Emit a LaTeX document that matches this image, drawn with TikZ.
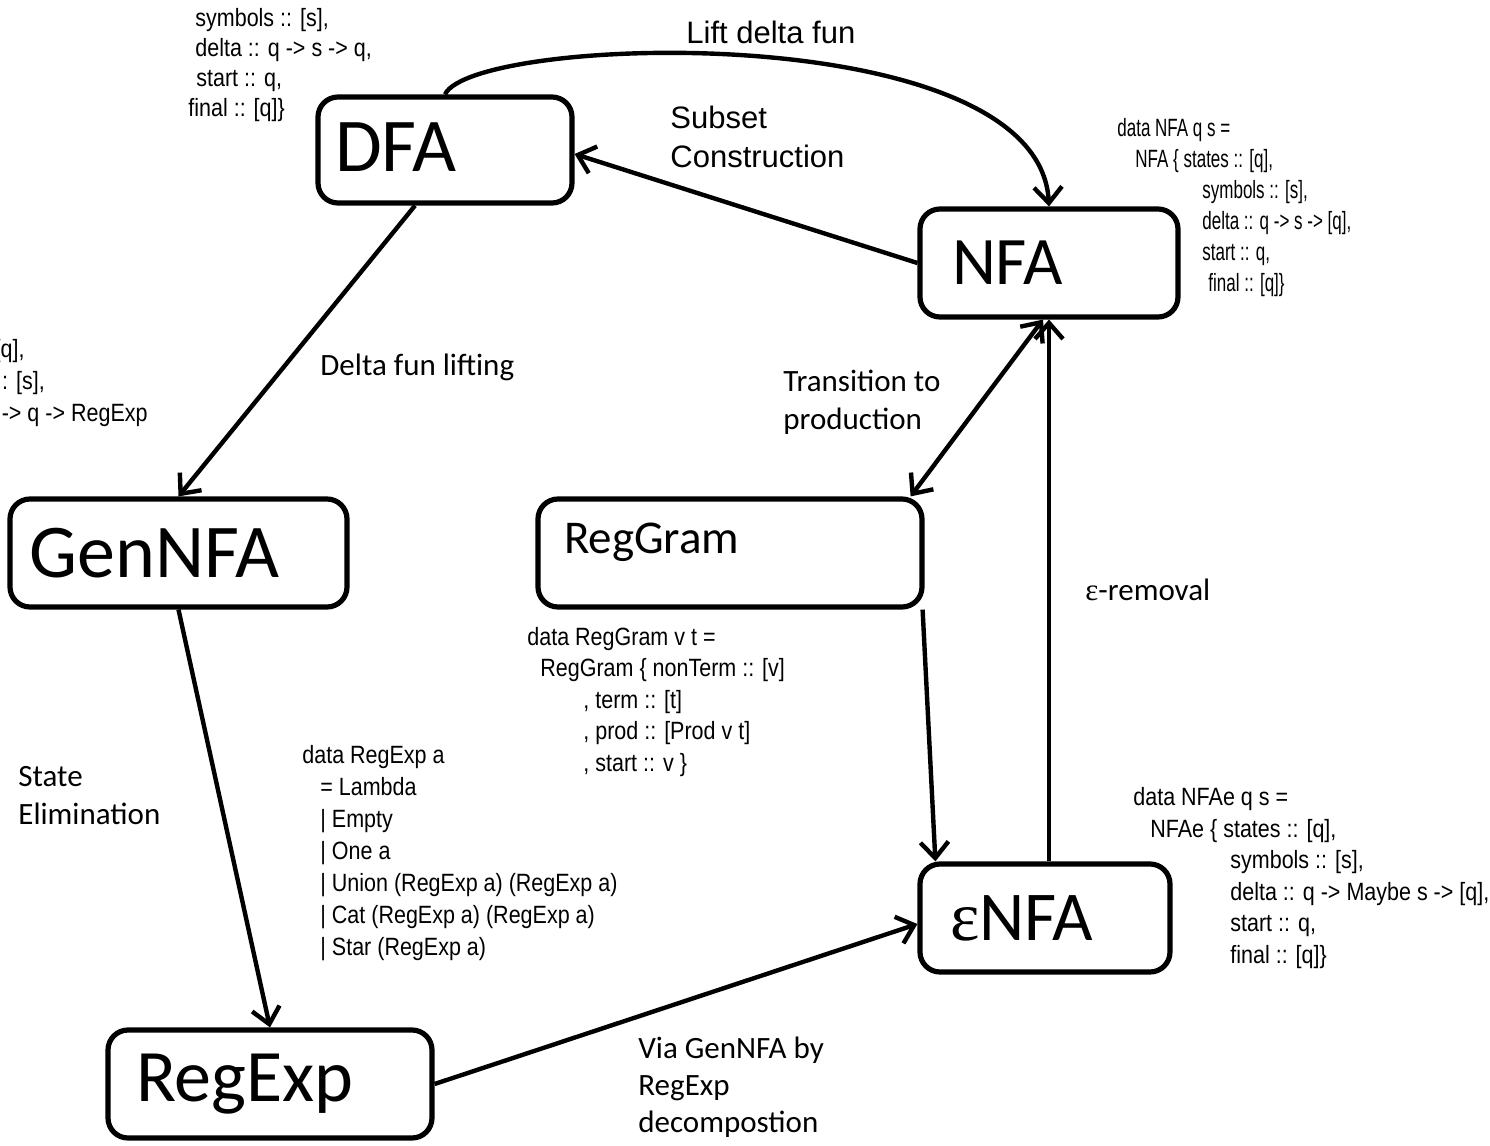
\documentclass[tikz,border=0pt]{standalone}
\usepackage{fontspec}
\setmainfont{Carlito}
\newfontfamily\arialfont{Liberation Sans}
\newfontfamily\codefont[FakeStretch=0.86]{Liberation Sans}
\newfontfamily\tightcodefont[FakeStretch=0.68]{Liberation Sans}
\newfontfamily\greekfont{Liberation Serif}
\usetikzlibrary{arrows.meta}

\tikzset{barb/.tip={Straight Barb[length=8pt,width=14pt]}}
\tikzstyle{stateBox}=[draw, rounded corners=10pt, line width=2.6pt, align=left, minimum height=54pt, font=\fontsize{38}{40}\selectfont]
\tikzstyle{convArrow}=[-barb, line width=2.2pt]
\tikzstyle{edgeLabel}=[anchor=west, align=left, inner sep=0pt, font=\fontsize{15.5}{18.5}\selectfont]
% base west of a code block = baseline of its last line
\tikzstyle{codeText}=[anchor=base west, align=left, inner sep=0pt, font=\codefont\fontsize{12.5}{15.75}\selectfont]

\begin{document}
\begin{tikzpicture}[x=0.5pt, y=-0.5pt]
		\useasboundingbox (0,0) rectangle (1490,1146);
		
		\node[stateBox, inner xsep=8.5pt, text width=110pt, minimum height=53pt, text depth=3pt] (dfa) at (445,150) {DFA};
		\node[stateBox, inner xsep=16pt, text width=97pt, font=\fontsize{34}{36}\selectfont] (nfa) at (1049,263) {NFA};
		\node[stateBox, inner xsep=10pt, text width=148.5pt] (genNFA) at (178.5,553) {GenNFA};
		\node[stateBox, inner xsep=13pt, text width=166pt, text height=17pt, text depth=17pt, font=\fontsize{23.5}{25}\selectfont] (regGram) at (730,553) {RegGram};
		\node[stateBox, inner xsep=15pt, text width=95pt, font=\fontsize{35}{37}\selectfont] (epsNFA) at (1045,918) {{\greekfont ε}NFA};
		\node[stateBox, inner xsep=14pt, text width=134pt, font=\fontsize{37}{39}\selectfont] (regExp) at (270,1084) {RegExp};
		
		% conversions
		\draw[convArrow] (dfa.north) .. controls +(28,-60) and +(-10,-190) .. (nfa.north);
		\draw[convArrow] (nfa.west) -- ([yshift=-2pt]dfa.east);
		\draw[convArrow] ([xshift=-15pt]dfa.south) -- (genNFA.north);
		\draw[barb-barb, line width=2.2pt] ([xshift=-3pt]nfa.south) -- ([xshift=-7pt]regGram.north east);
		\draw[convArrow] ([xshift=-1pt]regGram.south east) -- ([xshift=9pt]epsNFA.north west);
		\draw[convArrow] (epsNFA.north -| nfa.south) -- (nfa.south);
		\draw[convArrow] (genNFA.south) -- (regExp.north);
		\draw[convArrow] (regExp.east) -- ([yshift=-3pt]epsNFA.west);
		
		% labels
		\node[edgeLabel, font=\arialfont\fontsize{15.5}{18.5}\selectfont] (liftLabel) at (686,32) {Lift delta fun};
		\node[edgeLabel, font=\arialfont\fontsize{15.5}{19.5}\selectfont] (subsetLabel) at (670,137) {Subset\\Construction};
		\node[edgeLabel] (liftingLabel) at (320,367) {Delta fun lifting};
		\node[edgeLabel, font=\fontsize{15.5}{19}\selectfont] (prodLabel) at (783,402) {Transition to\\production};
		\node[edgeLabel] (removalLabel) at (1085,590) {{\greekfont ε}-removal};
		\node[edgeLabel, font=\fontsize{15.5}{19}\selectfont] (elimLabel) at (18,796) {State\\Elimination};
		\node[edgeLabel] (viaLabel) at (638,1087) {Via GenNFA by\\RegExp\\decompostion};
		
		% data types
		\node[codeText, font=\codefont\fontsize{12.5}{15}\selectfont] (dfaCode) at (188,116) {\hspace{3.5pt}symbols :: [s],\\\hspace{3.5pt}delta :: q -> s -> q,\\\hspace{4pt}start :: q,\\final :: [q]\}};
		\node[codeText, font=\tightcodefont\fontsize{12.5}{15.5}\selectfont] (nfaCode) at (1117,291) {data NFA q s =\\\hspace{9pt}NFA \{ states :: [q],\\\hspace{42.5pt}symbols :: [s],\\\hspace{42.5pt}delta :: q -> s -> [q],\\\hspace{42.5pt}start :: q,\\\hspace{45.5pt}final :: [q]\}};
		\begin{scope}
		\clip (0,0) rectangle (1490,1146);
		\node[codeText, font=\codefont\fontsize{12.5}{16}\selectfont] (genCode) at (-89,421) {states :: [q],\\symbols :: [s],\\delta :: q -> q -> RegExp};
		\end{scope}
		\node[codeText] (gramCode) at (527,771) {data RegGram v t =\\\hspace{6.5pt}RegGram \{ nonTerm :: [v]\\\hspace{28pt}, term :: [t]\\\hspace{28pt}, prod :: [Prod v t]\\\hspace{28pt}, start :: v \}};
		\node[codeText, font=\codefont\fontsize{12.5}{16}\selectfont] (expCode) at (302,955) {data RegExp a\\\hspace{9pt}= Lambda\\\hspace{9pt}| Empty\\\hspace{9pt}| One a\\\hspace{9pt}| Union (RegExp a) (RegExp a)\\\hspace{9pt}| Cat (RegExp a) (RegExp a)\\\hspace{9pt}| Star (RegExp a)};
		\node[codeText] (nfaeCode) at (1133,963) {data NFAe q s =\\\hspace{8.5pt}NFAe \{ states :: [q],\\\hspace{48.5pt}symbols :: [s],\\\hspace{48.5pt}delta :: q -> Maybe s -> [q],\\\hspace{48.5pt}start :: q,\\\hspace{48.5pt}final :: [q]\}};
\end{tikzpicture}
\end{document}
